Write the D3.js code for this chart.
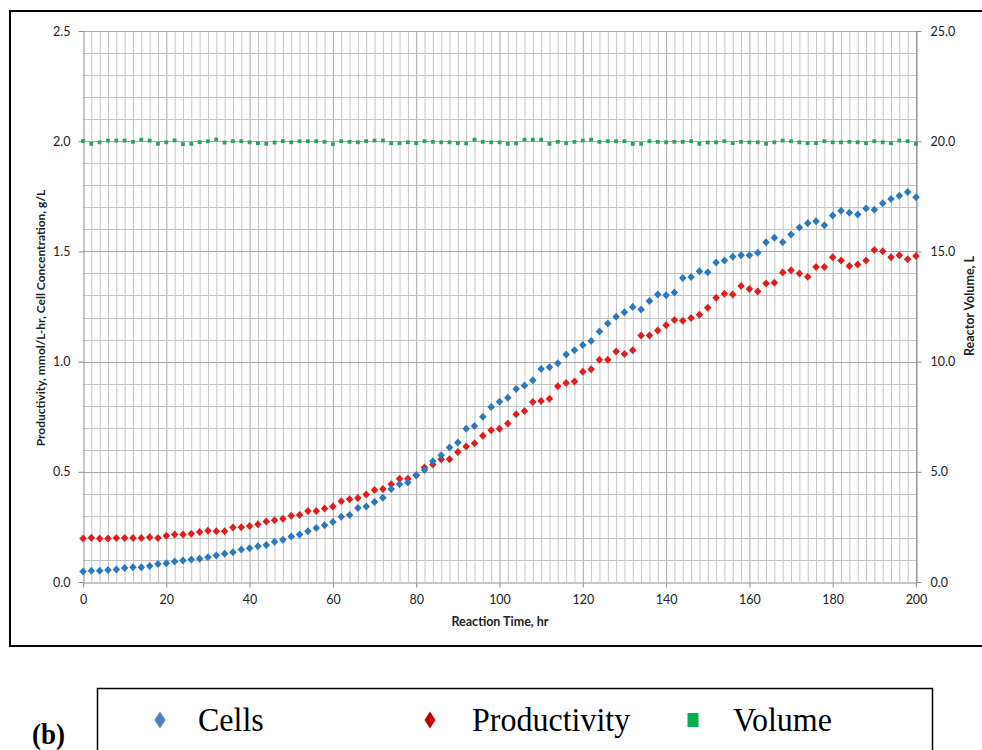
<!DOCTYPE html>
<html><head><meta charset="utf-8">
<script src="https://cdn.jsdelivr.net/npm/d3@7"></script>
<style>
html,body{margin:0;padding:0;background:#fff;}
svg{display:block;}
</style></head>
<body>
<svg id="chart" width="982" height="750"></svg>
<script>
// ---- Data (time every 2 hr, 0..200) ----
const times = d3.range(0, 201, 2);
const cells = [0.048,0.051,0.051,0.054,0.057,0.064,0.067,0.067,0.073,0.082,
  0.085,0.093,0.097,0.102,0.105,0.112,0.120,0.128,0.135,0.147,
  0.153,0.162,0.168,0.183,0.192,0.207,0.216,0.230,0.245,0.257,
  0.272,0.296,0.304,0.336,0.343,0.363,0.382,0.422,0.443,0.452,
  0.486,0.508,0.548,0.575,0.610,0.633,0.695,0.708,0.750,0.794,
  0.818,0.836,0.876,0.892,0.915,0.966,0.974,0.993,1.032,1.052,
  1.075,1.094,1.137,1.173,1.204,1.224,1.248,1.236,1.275,1.305,
  1.301,1.314,1.379,1.384,1.410,1.405,1.450,1.459,1.476,1.482,
  1.482,1.494,1.542,1.562,1.541,1.577,1.609,1.628,1.637,1.619,
  1.663,1.684,1.675,1.667,1.695,1.689,1.719,1.738,1.753,1.770,1.746];
const productivity = [0.197,0.201,0.197,0.197,0.200,0.200,0.200,0.200,0.203,0.200,
  0.210,0.215,0.215,0.219,0.227,0.233,0.230,0.230,0.247,0.248,
  0.254,0.262,0.275,0.280,0.287,0.301,0.304,0.322,0.322,0.334,
  0.342,0.366,0.375,0.381,0.397,0.417,0.422,0.444,0.468,0.468,
  0.483,0.520,0.533,0.557,0.557,0.590,0.615,0.630,0.664,0.689,
  0.695,0.719,0.761,0.776,0.817,0.821,0.832,0.888,0.903,0.910,
  0.954,0.965,1.008,1.008,1.046,1.034,1.051,1.118,1.118,1.141,
  1.165,1.189,1.185,1.198,1.213,1.244,1.290,1.308,1.304,1.343,
  1.329,1.318,1.354,1.358,1.404,1.415,1.400,1.385,1.429,1.429,
  1.473,1.459,1.434,1.441,1.459,1.506,1.501,1.473,1.482,1.464,1.479];
const volume = [20.01,19.88,19.95,20.03,20.03,20.03,19.97,20.07,20.03,19.88,
  19.95,20.04,19.87,19.88,19.96,20.00,20.08,19.94,20.00,20.00,
  19.95,19.91,19.88,19.94,20.00,19.95,20.00,20.00,20.00,19.97,
  19.87,20.00,19.97,19.95,20.00,20.03,20.03,19.91,19.91,19.95,
  19.91,20.00,19.97,19.95,19.95,19.91,19.90,20.07,19.97,19.95,
  19.95,19.88,19.90,20.07,20.07,20.07,19.88,19.97,19.91,19.97,
  20.03,20.07,19.97,20.00,20.00,20.00,19.88,19.88,20.00,19.97,
  19.95,19.97,19.97,20.00,19.88,19.94,19.95,20.00,19.91,19.97,
  19.95,19.95,19.88,19.95,20.03,20.00,19.95,19.91,19.91,20.00,
  19.95,19.95,19.97,19.95,19.91,20.00,19.95,19.91,20.03,20.00,19.88];
const xTicks = [0,20,40,60,80,100,120,140,160,180,200];
const yLeftTicks = [0,0.5,1.0,1.5,2.0,2.5];
const yRightTicks = [0,5,10,15,20,25];
const legendLabels = ["Cells","Productivity","Volume"];

// ---- Layout ----
const svg = d3.select("#chart");
const x = d3.scaleLinear().domain([0,200]).range([83,916]);
const yL = d3.scaleLinear().domain([0,2.5]).range([582,31]);
const yR = d3.scaleLinear().domain([0,25]).range([582,31]);
const fontUI = "Lato, 'Open Sans', 'DejaVu Sans', sans-serif";

// outer frame
svg.append("rect").attr("x",10).attr("y",11).attr("width",990).attr("height",635)
  .attr("fill","none").attr("stroke","#000").attr("stroke-width",2);

// gridlines
const grid = svg.append("g");
grid.selectAll("line.v").data(d3.range(2,201,2)).join("line")
  .attr("x1",d=>x(d)+0.5).attr("x2",d=>x(d)+0.5)
  .attr("y1",yL(2.5)).attr("y2",yL(0))
  .attr("stroke",d=>d%20===0?"#a8a8a8":"#c4c4c4").attr("stroke-width",1);
grid.selectAll("line.h").data(d3.range(1,26).map(i=>i/10)).join("line")
  .attr("y1",d=>Math.round(yL(d))+0.5).attr("y2",d=>Math.round(yL(d))+0.5)
  .attr("x1",x(0)).attr("x2",x(200))
  .attr("stroke",(d,i)=>((i+1)%5===0)?"#a8a8a8":"#c4c4c4").attr("stroke-width",1);

// axes
function styleAxis(g){
  g.select(".domain").attr("stroke","#8c8c8c");
  g.selectAll(".tick line").attr("stroke","#8c8c8c");
  g.selectAll("text").attr("font-family",fontUI).attr("font-size","12.5px").attr("fill","#222");
}
svg.append("g").attr("transform","translate(0,582.5)")
  .call(d3.axisBottom(x).tickValues(xTicks).tickSize(5).tickSizeOuter(0).tickPadding(8).tickFormat(d3.format("d")))
  .call(styleAxis);
svg.append("g").attr("transform","translate(83.5,0)")
  .call(d3.axisLeft(yL).tickValues(yLeftTicks).tickSize(5).tickSizeOuter(0).tickPadding(8).tickFormat(d3.format(".1f")))
  .call(styleAxis);
svg.append("g").attr("transform","translate(916.5,0)")
  .call(d3.axisRight(yR).tickValues(yRightTicks).tickSize(5).tickSizeOuter(0).tickPadding(9).tickFormat(d3.format(".1f")))
  .call(styleAxis);

// axis titles
svg.append("text").attr("x",500).attr("y",626).attr("text-anchor","middle")
  .attr("font-family",fontUI).attr("font-weight","bold").attr("font-size","12.5px").attr("fill","#222")
  .text("Reaction Time, hr");
svg.append("text").attr("transform","translate(45,318) rotate(-90)").attr("text-anchor","middle")
  .attr("font-family",fontUI).attr("font-weight","bold").attr("font-size","12px").attr("fill","#222")
  .text("Productivity, mmol/L-hr, Cell Concentration, g/L");
svg.append("text").attr("transform","translate(974,306) rotate(-90)").attr("text-anchor","middle")
  .attr("font-family",fontUI).attr("font-weight","bold").attr("font-size","12.5px").attr("fill","#222")
  .text("Reactor Volume, L");

// markers
function diamondPath(w,h){
  return {draw(ctx){ctx.moveTo(0,-h/2);ctx.lineTo(w/2,0);ctx.lineTo(0,h/2);ctx.lineTo(-w/2,0);ctx.closePath();}};
}
const dia = d3.symbol().type(diamondPath(7.5,8))();
const sq = d3.symbol().type({draw(ctx){ctx.rect(-1.9,-1.9,3.8,3.8);}})();

svg.append("g").selectAll("path").data(times.map((t,i)=>[t,volume[i]])).join("path")
  .attr("d",sq).attr("transform",d=>`translate(${x(d[0])},${yR(d[1])})`).attr("fill","#27a35c");
svg.append("g").selectAll("path").data(times.map((t,i)=>[t,productivity[i]])).join("path")
  .attr("d",dia).attr("transform",d=>`translate(${x(d[0])},${yL(d[1])})`).attr("fill","#e21c1c");
svg.append("g").selectAll("path").data(times.map((t,i)=>[t,cells[i]])).join("path")
  .attr("d",dia).attr("transform",d=>`translate(${x(d[0])},${yL(d[1])})`).attr("fill","#2b78bd");

// legend
const serif = "'Liberation Serif', 'Times New Roman', serif";
svg.append("text").attr("transform","translate(32,744) scale(1,1.1)").attr("font-family",serif).attr("font-weight","bold")
  .attr("font-size","27px").attr("fill","#000").text("(b)");
svg.append("rect").attr("x",97.5).attr("y",688.5).attr("width",835).attr("height",80)
  .attr("fill","#fff").attr("stroke","#000").attr("stroke-width",1.5);
const legendMarkers = [
  {x:160, d:d3.symbol().type(diamondPath(11,17))(), fill:"#4f81bd", tx:198},
  {x:430, d:d3.symbol().type(diamondPath(11,17))(), fill:"#c00000", tx:472},
  {x:693, d:d3.symbol().type({draw(ctx){ctx.rect(-5.5,-7,11,14);}})(), fill:"#00b050", tx:733}
];
const lg = svg.append("g").selectAll("g").data(legendMarkers).join("g");
lg.append("path").attr("d",d=>d.d).attr("transform",d=>`translate(${d.x},720)`).attr("fill",d=>d.fill);
lg.append("text").attr("transform",d=>`translate(${d.tx},731) scale(1,1.08)`).attr("font-family",serif)
  .attr("font-size","32px").attr("fill","#000").text((d,i)=>legendLabels[i]);
</script>
</body></html>
